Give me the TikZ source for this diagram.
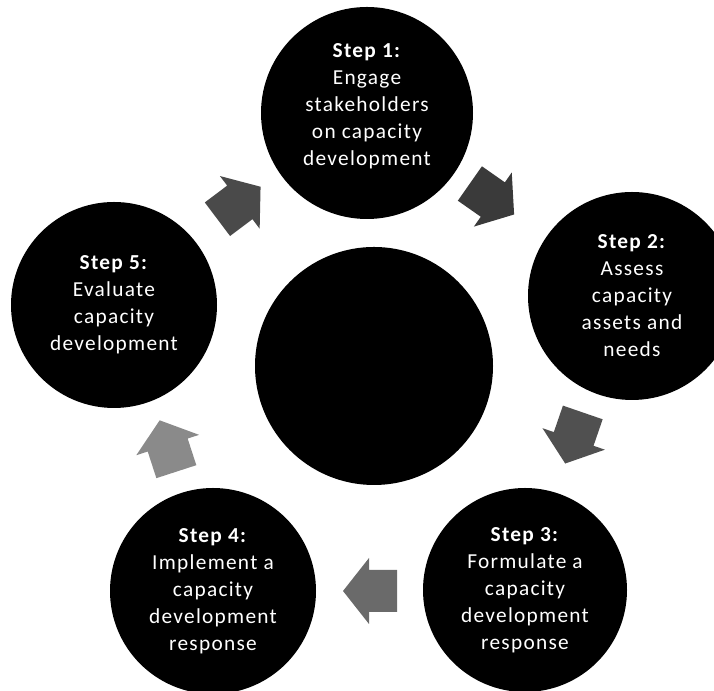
\documentclass[tikz,border=0pt]{standalone}
\usepackage{fontspec}
\setmainfont{Carlito}[LetterSpace=6]
\begin{document}
\begin{tikzpicture}[x=0.75pt,y=0.75pt,
  stepcircle/.style={circle, fill=black, inner sep=0pt, minimum size=#1*0.75pt,
    text=white, align=center, font=\fontsize{16}{20.25}\selectfont},
  steptext/.style={text=white, align=center, inner sep=0pt, font=\fontsize{16}{20.25}\selectfont},
  flowarrow/.pic={\fill (-27,-21) -- (1,-21) -- (1,-33) -- (27,0) -- (1,33) -- (1,21) -- (-27,21) -- cycle;}]
\useasboundingbox (0,0) rectangle (714,691);
% circles
\node[stepcircle=238] (hub) at (374,325) {};
\node[stepcircle=212] (s1) at (367,578) {};
\node[steptext] (t1) at ([yshift=5pt]s1.center) {\textbf{Step 1:}\\Engage\\stakeholders\\on capacity\\development};
\node[stepcircle=208] (s2) at (632,395) {\textbf{Step 2:}\\Assess\\capacity\\assets and\\needs};
\node[stepcircle=204] (s3) at (525,101) {\textbf{Step 3:}\\Formulate a\\capacity\\development\\response};
\node[stepcircle=206] (s4) at (213,100) {\textbf{Step 4:}\\Implement a\\capacity\\development\\response};
\node[stepcircle=206] (s5) at (114,386) {\textbf{Step 5:}\\Evaluate\\capacity\\development};
% block arrows
\coordinate (a1) at (239,488);
\coordinate (a2) at (492,492);
\coordinate (a3) at (574,253);
\coordinate (a4) at (370,100);
\coordinate (a5) at (168,245);
\pic[rotate=37,  fill={rgb,255:red,74;green,74;blue,74}]    at (a1) {flowarrow};
\pic[rotate=-35, fill={rgb,255:red,58;green,58;blue,58}]    at (a2) {flowarrow};
\pic[rotate=-109,fill={rgb,255:red,80;green,80;blue,80}]    at (a3) {flowarrow};
\pic[rotate=180, fill={rgb,255:red,106;green,106;blue,106}] at (a4) {flowarrow};
\pic[rotate=108, fill={rgb,255:red,138;green,138;blue,138}] at (a5) {flowarrow};
\end{tikzpicture}
\end{document}
